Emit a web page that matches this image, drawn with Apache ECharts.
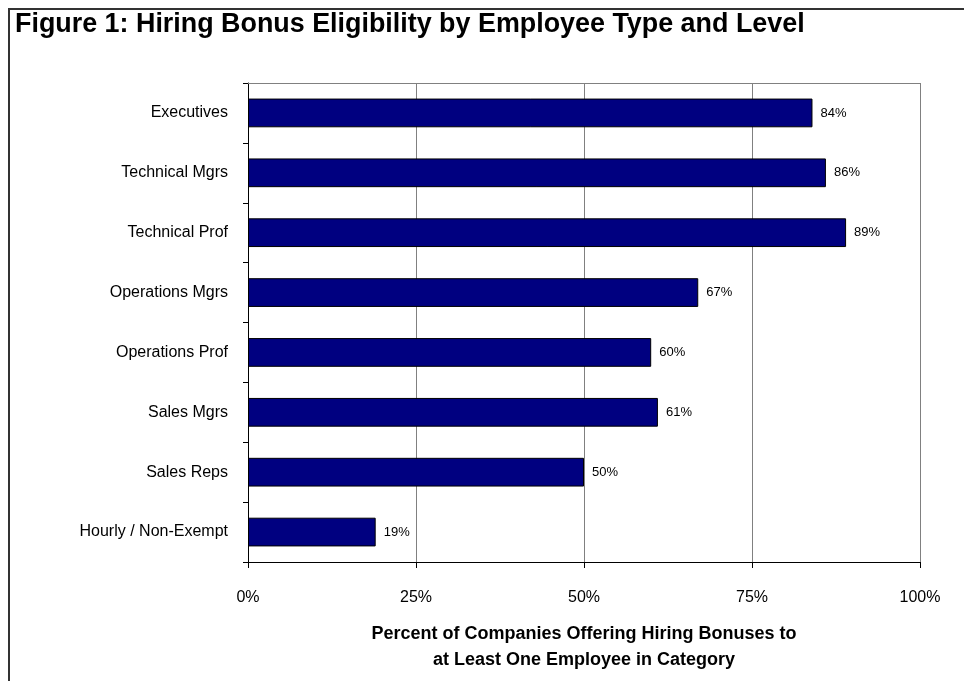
<!DOCTYPE html>
<html>
<head>
<meta charset="utf-8">
<script src="https://cdn.jsdelivr.net/npm/echarts@6/dist/echarts.min.js"></script>
<style>
html,body{margin:0;padding:0;background:#fff;}
#chart{width:964px;height:681px;}
</style>
</head>
<body>
<div id="chart"></div>
<script>
const titleText = 'Figure 1: Hiring Bonus Eligibility by Employee Type and Level';
const categories = ['Executives','Technical Mgrs','Technical Prof','Operations Mgrs','Operations Prof','Sales Mgrs','Sales Reps','Hourly / Non-Exempt'];
const values = [84, 86, 89, 67, 60, 61, 50, 19];
const xTicks = [0, 25, 50, 75, 100];
const xAxisName = 'Percent of Companies Offering Hiring Bonuses to\nat Least One Employee in Category';

const chart = echarts.init(document.getElementById('chart'), null, {renderer:'canvas'});
chart.setOption({
  animation: false,
  backgroundColor: '#fff',
  graphic: [{
    type: 'polyline',
    shape: {points: [[9, 700], [9, 9], [980, 9]]},
    style: {stroke: '#333', lineWidth: 2, fill: null}
  }, {
    type: 'text',
    x: 15, y: 10, scaleX: 0.96, scaleY: 1,
    style: {
      text: titleText,
      fontFamily: '"Liberation Sans",Arial,sans-serif', fontWeight: 'bold', fontSize: 28,
      fill: '#000', textAlign: 'left', textVerticalAlign: 'top'
    }
  }],
  grid: {left: 248, right: 44, top: 83, bottom: 119, containLabel: false},
  xAxis: [{
    type: 'value', min: xTicks[0], max: xTicks[xTicks.length-1], interval: 25,
    position: 'bottom',
    axisLine: {show: true, lineStyle: {color: '#000', width: 1}},
    axisTick: {show: true, length: 6, lineStyle: {color: '#000'}},
    axisLabel: {formatter: '{value}%', fontFamily: '"Liberation Sans",Arial,sans-serif', fontSize: 16, color: '#000', margin: 28},
    splitLine: {show: true, lineStyle: {color: '#808080', width: 1}},
    name: xAxisName, nameLocation: 'middle', nameGap: 59,
    nameTextStyle: {fontFamily: '"Liberation Sans",Arial,sans-serif', fontWeight: 'bold', fontSize: 18, color: '#000', lineHeight: 26}
  }, {
    type: 'value', min: 0, max: 100, position: 'top',
    axisLine: {show: true, lineStyle: {color: '#808080', width: 1}},
    axisTick: {show: false}, axisLabel: {show: false}, splitLine: {show: false}
  }],
  yAxis: {
    type: 'category', data: categories, inverse: true,
    axisLine: {show: true, lineStyle: {color: '#000', width: 1}},
    axisTick: {show: true, length: 5, alignWithLabel: false, lineStyle: {color: '#000'}},
    axisLabel: {fontFamily: '"Liberation Sans",Arial,sans-serif', fontSize: 16, color: '#000', margin: 20},
    splitLine: {show: false}
  },
  series: [{
    type: 'bar', data: values, xAxisIndex: 0,
    barCategoryGap: '52%',
    itemStyle: {color: '#000080', borderColor: '#000', borderWidth: 1},
    label: {show: true, position: 'right', distance: 8, formatter: '{c}%', fontFamily: '"Liberation Sans",Arial,sans-serif', fontSize: 13, color: '#000'}
  }]
});
</script>
</body>
</html>
